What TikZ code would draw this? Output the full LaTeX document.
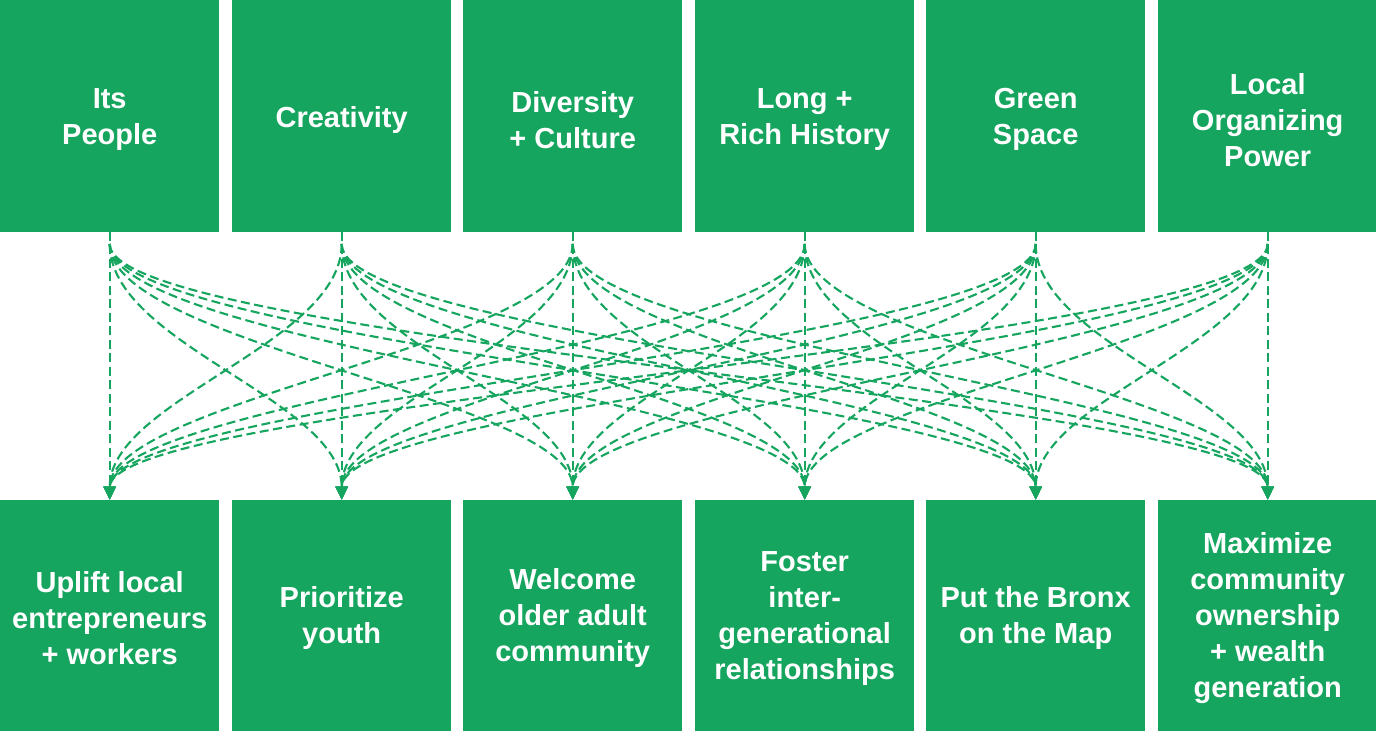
\documentclass[tikz,border=0pt]{standalone}
\usepackage{fontspec}
\setmainfont{Liberation Sans}
\usetikzlibrary{arrows.meta}
\definecolor{leaf}{HTML}{15A55E}
\begin{document}
\begin{tikzpicture}[x=1pt,y=1pt,
  card/.style={fill=leaf, minimum width=219pt, inner sep=0pt, anchor=south west},
  topcard/.style={card, minimum height=232pt},
  botcard/.style={card, minimum height=231pt},
  cardtext/.style={text=white, font=\fontsize{29}{36}\selectfont\bfseries,
    align=center, inner sep=0pt},
  link/.style={draw=leaf, line width=2.1pt, dash pattern=on 9pt off 4.5pt,
    -{Triangle[length=13pt,width=12pt]}}
]
\useasboundingbox (0,0) rectangle (1376,731);

% strengths along the top row
\foreach \i/\lft/\txt in {1/0/{Its\\People}, 2/232/{Creativity}, 3/463/{Diversity\\+ Culture},
    4/695/{Long +\\Rich History}, 5/926/{Green\\Space}, 6/1158/{Local\\Organizing\\Power}} {
  \node[topcard] (t\i) at (\lft,499) {};
  \node[cardtext] (t\i txt) at ([yshift=-4pt]t\i.center) {\txt};
}

% goals along the bottom row
\foreach \i/\lft/\txt in {1/0/{Uplift local\\entrepreneurs\\+ workers}, 2/232/{Prioritize\\youth},
    3/463/{Welcome\\older adult\\community}, 4/695/{Foster\\inter-\\generational\\relationships},
    5/926/{Put the Bronx\\on the Map}, 6/1158/{Maximize\\community\\ownership\\+ wealth\\generation}} {
  \node[botcard] (b\i) at (\lft,0) {};
  \node[cardtext] (b\i txt) at ([yshift=-3pt]b\i.center) {\txt};
}

% start points of the curved links, just below each top card
\foreach \i in {1,...,6}
  \coordinate (s\i) at ([yshift=-12pt]t\i.south);

% every strength links to every goal
\foreach \i in {1,...,6}
  \foreach \j in {1,...,6} {
    \ifnum\i=\j
      \draw[link] (t\i.south) -- (b\j.north);
    \else
      \draw[link] (s\i) .. controls +(0,-100) and +(0,100) .. (b\j.north);
    \fi
  }
\end{tikzpicture}
\end{document}
